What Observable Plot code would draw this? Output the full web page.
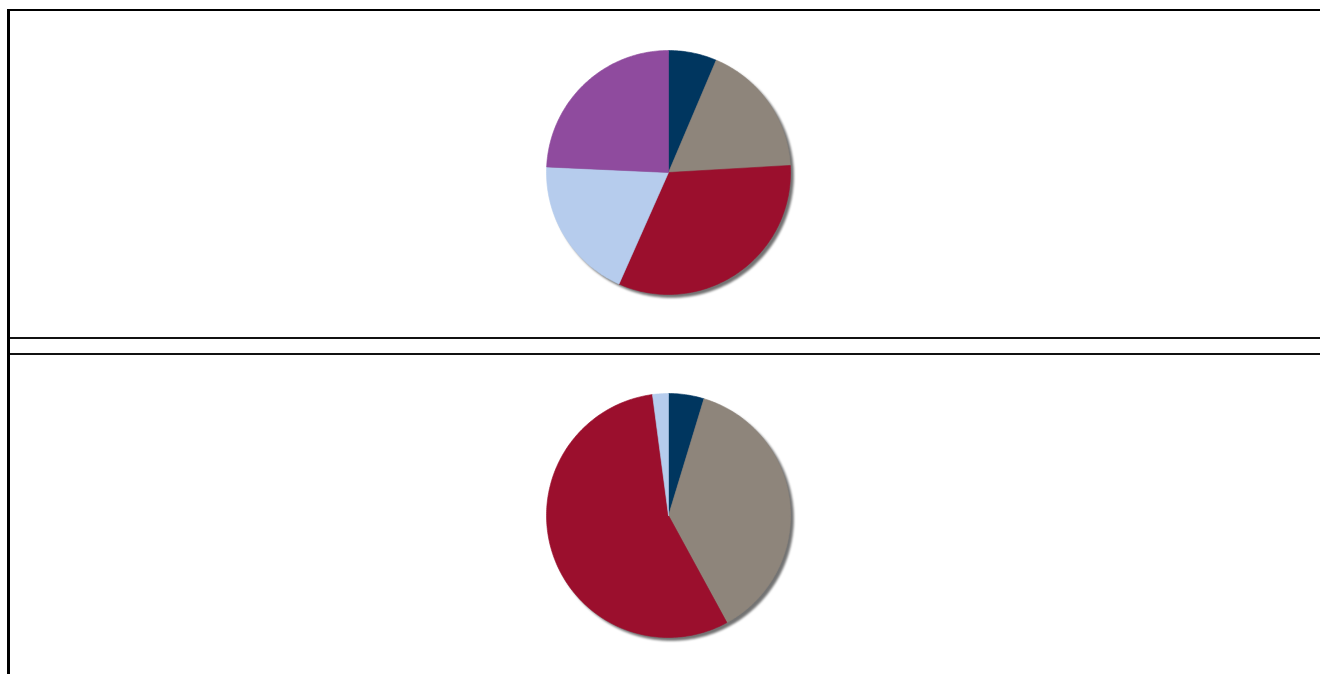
<!DOCTYPE html>
<html>
<head>
<meta charset="utf-8">
<script src="https://cdn.jsdelivr.net/npm/d3@7"></script>
<script src="https://cdn.jsdelivr.net/npm/@observablehq/plot@0.6"></script>
<style>
  html, body { margin: 0; padding: 0; background: #fff; width: 1320px; height: 674px; overflow: hidden; font-family: "Liberation Sans", Arial, sans-serif; }
  #frame { position: absolute; left: 7px; top: 9px; width: 1400px; height: 700px; border-top: 2.5px solid #000; border-left: 3px solid #000; }
  .hline { position: absolute; left: 10px; width: 1400px; height: 0; border-top: 2px solid #111; }
  .pie { position: absolute; width: 260px; height: 260px; }
  .pie svg { background: transparent; filter: drop-shadow(3px 3px 1px rgba(0,0,0,0.55)); }
</style>
</head>
<body>
<div id="frame"></div>
<div class="hline" style="top:337px"></div>
<div class="hline" style="top:353px"></div>
<div id="pie1" class="pie" style="left:538px; top:42px"></div>
<div id="pie2" class="pie" style="left:538px; top:385px"></div>
<script>
// Category order (clockwise from 12 o'clock)
const categories = ["Category 1", "Category 2", "Category 3", "Category 4", "Category 5"];
const sliceColors = ["#00365F", "#8E857B", "#9B0F2D", "#B6CCED", "#8F4B9E"];
// Percent shares
const pie1Values = [6.4, 17.7, 32.6, 19.1, 24.3];
const pie2Values = [4.7, 37.4, 55.9, 2.1, 0];

const R = 122; // pie radius in data units

function sliceRows(values) {
  const total = d3.sum(values);
  const rows = [];
  let acc = 0;
  values.forEach((v, i) => {
    if (v <= 0) return;
    const a0 = acc / total * 2 * Math.PI;
    acc += v;
    const a1 = acc / total * 2 * Math.PI;
    const n = Math.max(2, Math.ceil((a1 - a0) / (Math.PI / 180)));
    rows.push({cat: categories[i], color: sliceColors[i], x: 0, y: 0});
    for (let k = 0; k <= n; k++) {
      const a = a0 + (a1 - a0) * k / n;
      rows.push({cat: categories[i], color: sliceColors[i], x: R * Math.sin(a), y: R * Math.cos(a)});
    }
    rows.push({cat: categories[i], color: sliceColors[i], x: 0, y: 0});
  });
  return rows;
}

function pie(values) {
  return Plot.plot({
    width: 260,
    height: 260,
    margin: 0,
    style: {background: "transparent"},
    x: {domain: [-130, 130], axis: null},
    y: {domain: [-130, 130], axis: null},
    color: {type: "identity"},
    marks: [
      Plot.line(sliceRows(values), {x: "x", y: "y", z: "cat", fill: "color", stroke: "color", strokeWidth: 0.6, curve: "linear"})
    ]
  });
}

document.getElementById("pie1").appendChild(pie(pie1Values));
document.getElementById("pie2").appendChild(pie(pie2Values));
</script>
</body>
</html>
